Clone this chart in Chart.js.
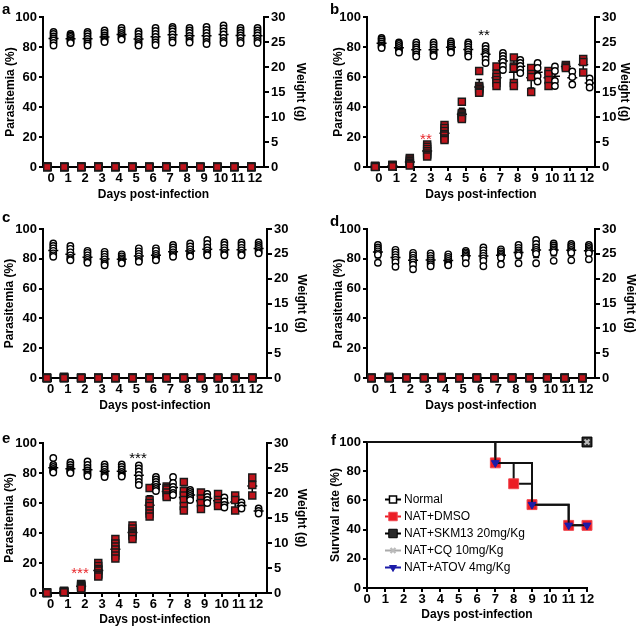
<!DOCTYPE html>
<html>
<head>
<meta charset="utf-8">
<script src="https://cdn.jsdelivr.net/npm/chart.js@4.4.1/dist/chart.umd.min.js"></script>
<style>
body { margin: 0; background: #fff; }
#wrap { position: relative; width: 638px; height: 630px; }
canvas { position: absolute; }
.lab { position: absolute; font: bold 15px/15px "Liberation Sans", Arial, sans-serif; color: #000; }
</style>
</head>
<body>
<div id="wrap">
  <canvas id="ca" width="318" height="210" style="left:0;top:0"></canvas>
  <canvas id="cb" width="320" height="210" style="left:318px;top:0"></canvas>
  <canvas id="cc" width="318" height="210" style="left:0;top:210px"></canvas>
  <canvas id="cd" width="320" height="210" style="left:318px;top:210px"></canvas>
  <canvas id="ce" width="318" height="210" style="left:0;top:420px"></canvas>
  <canvas id="cf" width="320" height="210" style="left:318px;top:420px"></canvas>
  <div class="lab" style="left:2px;top:1px">a</div>
  <div class="lab" style="left:330px;top:1px">b</div>
  <div class="lab" style="left:2px;top:209px">c</div>
  <div class="lab" style="left:330px;top:213px">d</div>
  <div class="lab" style="left:2px;top:430px">e</div>
  <div class="lab" style="left:331px;top:432px">f</div>
</div>
<script>
// days and tick labels
var days = [0, 1, 2, 3, 4, 5, 6, 7, 8, 9, 10, 11, 12];
var parasiteTicks = [0, 20, 40, 60, 80, 100];
var weightTicks = [0, 5, 10, 15, 20, 25, 30];
var survivalTicks = [0, 20, 40, 60, 80, 100];

// panel a - weight (g) and parasitemia (%) per mouse, one list per day
var weightA = [
  [27.0, 26.6, 26.1, 25.7, 25.3, 24.8, 24.3], [26.6, 26.3, 26.0, 25.6, 25.3, 25.0, 24.8],
  [27.0, 26.6, 26.1, 25.6, 25.1, 24.7, 24.3], [27.3, 26.8, 26.3, 25.9, 25.5, 25.2, 25.0],
  [27.8, 27.3, 26.8, 26.4, 26.0, 25.7, 25.5], [27.1, 26.6, 26.0, 25.5, 25.0, 24.6, 24.3],
  [27.8, 27.2, 26.6, 26.0, 25.4, 24.9, 24.4], [28.0, 27.6, 27.1, 26.5, 25.9, 25.3, 24.9],
  [27.8, 27.3, 26.8, 26.2, 25.7, 25.2, 24.9], [28.0, 27.4, 26.8, 26.2, 25.6, 25.0, 24.6],
  [28.3, 27.7, 27.1, 26.5, 25.8, 25.2, 24.8], [27.8, 27.3, 26.8, 26.3, 25.8, 25.2, 24.8],
  [27.8, 27.3, 26.8, 26.3, 25.7, 25.2, 24.8]
];
var parasA = [
  [0.4, 0.2, 0, 0, 0, 0, 0], [0.2, 0, 0, 0, 0, 0, 0], [0.3, 0.1, 0, 0, 0, 0, 0],
  [0.3, 0.2, 0, 0, 0, 0, 0], [0.4, 0.1, 0, 0, 0, 0, 0], [0.1, 0, 0, 0, 0, 0, 0],
  [0.2, 0, 0, 0, 0, 0, 0], [0.4, 0.2, 0, 0, 0, 0, 0], [0.3, 0.1, 0, 0, 0, 0, 0],
  [0.2, 0, 0, 0, 0, 0, 0], [0.1, 0, 0, 0, 0, 0, 0], [0.2, 0.1, 0, 0, 0, 0, 0],
  [0.3, 0, 0, 0, 0, 0, 0]
];

// panel b
var weightB = [
  [25.8, 25.5, 25.1, 24.7, 24.3, 24.0, 23.8], [24.9, 24.6, 24.2, 23.8, 23.4, 23.1, 22.9],
  [24.9, 24.4, 23.9, 23.5, 23.0, 22.5, 22.1], [24.9, 24.4, 23.9, 23.4, 22.9, 22.5, 22.2],
  [25.1, 24.7, 24.3, 23.9, 23.5, 23.1, 22.9], [24.9, 24.5, 24.0, 23.5, 23.0, 22.5, 22.1],
  [24.2, 23.6, 23.0, 22.6, 22.2, 21.5, 20.8], [22.8, 22.2, 21.6, 21.0, 20.2, 19.4],
  [21.4, 20.8, 20.2, 19.5, 18.8], [20.8, 19.8, 18.2, 17.1], [20.1, 19.2, 17.2, 16.2],
  [19.1, 18.0, 16.5], [17.7, 16.8, 15.9]
];
var parasB = [
  [0.8, 0.5, 0.3, 0.2, 0.1, 0.1, 0], [1.5, 1.2, 1.0, 0.8, 0.6, 0.5, 0.4],
  [6, 5, 4, 3, 2.5, 2, 1], [15, 13.5, 12, 10.5, 9, 8, 7], [28, 26, 24, 22, 21, 19, 18],
  [43.5, 36, 35, 34, 33, 33, 32], [64, 54, 53, 52, 51, 50, 49.5], [67, 62, 60, 58, 56, 54],
  [73, 67, 66, 56, 54], [66, 62, 60, 50], [64, 62, 58, 54], [68, 67, 66], [72, 70, 63]
];
var starsB = [
  { text: '**', day: 6.06, value: 90.5, color: '#000' },
  { text: '**', day: 2.71, value: 21.3, color: '#e8262a' }
];

// panel c
var weightC = [
  [27.1, 26.6, 26.1, 25.6, 25.1, 24.7, 24.4], [26.6, 26.0, 25.3, 24.7, 24.2, 23.9, 23.7],
  [25.6, 25.2, 24.7, 24.2, 23.8, 23.4, 23.2], [25.4, 24.9, 24.4, 23.9, 23.4, 23.0, 22.7],
  [24.9, 24.5, 24.1, 23.8, 23.5, 23.3, 23.1], [26.1, 25.5, 25.0, 24.5, 24.0, 23.6, 23.4],
  [26.1, 25.6, 25.0, 24.6, 24.2, 23.9, 23.7], [26.8, 26.3, 25.8, 25.3, 24.9, 24.6, 24.4],
  [27.1, 26.5, 25.9, 25.4, 25.0, 24.7, 24.5], [27.8, 27.0, 26.3, 25.7, 25.2, 24.9, 24.7],
  [27.3, 26.8, 26.2, 25.7, 25.2, 24.9, 24.7], [27.3, 26.8, 26.2, 25.7, 25.2, 24.9, 24.7],
  [27.3, 26.8, 26.4, 26.0, 25.6, 25.3, 25.1]
];
var parasC = [
  [0.2, 0, 0, 0, 0, 0, 0], [0.9, 0.5, 0.2, 0, 0, 0, 0], [0.1, 0, 0, 0, 0, 0, 0],
  [0.2, 0, 0, 0, 0, 0, 0], [0.4, 0.1, 0, 0, 0, 0, 0], [0.3, 0, 0, 0, 0, 0, 0],
  [0.3, 0.1, 0, 0, 0, 0, 0], [0.2, 0, 0, 0, 0, 0, 0], [0.1, 0, 0, 0, 0, 0, 0],
  [0.3, 0.1, 0, 0, 0, 0, 0], [0.2, 0, 0, 0, 0, 0, 0], [0.2, 0, 0, 0, 0, 0, 0],
  [0.2, 0, 0, 0, 0, 0, 0]
];

// panel d
var weightD = [
  [26.8, 26.3, 25.9, 25.5, 25.1, 24.8, 23.2], [25.8, 25.3, 24.8, 24.3, 23.8, 23.3, 22.4],
  [25.2, 24.7, 24.2, 23.8, 23.3, 22.8, 21.9], [25.1, 24.6, 24.1, 23.7, 23.3, 22.9, 22.5],
  [24.9, 24.4, 24.0, 23.6, 23.2, 22.9, 22.7], [25.6, 25.3, 25.0, 24.7, 24.4, 24.1, 23.1],
  [26.3, 25.7, 25.1, 24.6, 24.1, 23.6, 22.5], [25.9, 25.5, 25.1, 24.8, 24.5, 24.2, 22.9],
  [26.8, 26.2, 25.7, 25.3, 25.0, 24.7, 23.1], [27.8, 27.0, 26.3, 25.8, 25.4, 25.0, 23.1],
  [27.1, 26.7, 26.3, 25.9, 25.6, 25.3, 23.6], [27.0, 26.6, 26.2, 25.8, 25.5, 25.2, 23.7],
  [26.8, 26.4, 26.0, 25.7, 25.4, 25.1, 23.9]
];
var parasD = [
  [0.2, 0, 0, 0, 0, 0, 0], [0.8, 0.3, 0, 0, 0, 0, 0], [0.1, 0, 0, 0, 0, 0, 0],
  [0.2, 0, 0, 0, 0, 0, 0], [0.6, 0.2, 0, 0, 0, 0, 0], [0.2, 0, 0, 0, 0, 0, 0],
  [0.3, 0, 0, 0, 0, 0, 0], [0.4, 0.1, 0, 0, 0, 0, 0], [0.3, 0, 0, 0, 0, 0, 0],
  [0.5, 0.1, 0, 0, 0, 0, 0], [0.4, 0, 0, 0, 0, 0, 0], [0.2, 0, 0, 0, 0, 0, 0],
  [0.3, 0, 0, 0, 0, 0, 0]
];

// panel e
var weightE = [
  [27.0, 25.6, 25.2, 24.8, 24.5, 24.3, 24.1], [26.1, 25.6, 25.1, 24.7, 24.4, 24.2, 24.0],
  [26.3, 25.6, 25.0, 24.5, 24.1, 23.7, 23.4], [25.7, 25.2, 24.7, 24.2, 23.8, 23.5, 23.2],
  [25.7, 25.2, 24.7, 24.2, 23.8, 23.5, 23.3], [25.5, 24.9, 24.3, 23.6, 22.9, 22.2, 21.6],
  [23.2, 22.7, 22.2, 21.7, 21.2, 20.8, 20.4], [23.2, 22.0, 21.2, 20.6, 20.0, 19.6],
  [20.6, 20.2, 19.8, 19.4, 19.0, 18.6], [19.8, 19.2, 18.6, 18.0], [19.1, 18.3, 17.6, 17.1],
  [18.1, 17.5, 16.9], [16.9, 16.4, 15.9]
];
var parasE = [
  [0.5, 0.3, 0.2, 0.1, 0, 0, 0], [1.5, 1.2, 1.0, 0.8, 0.6, 0.5, 0.5],
  [6, 5.5, 5, 4.5, 4, 3.5, 3], [20, 18, 16, 15, 13, 12, 11], [36, 33, 31, 29, 27, 25, 23],
  [45, 43, 41, 40, 39, 38, 36], [70, 62, 60, 58, 55, 53, 51], [71, 70, 69, 67, 65, 64],
  [74, 68, 65, 62, 58, 55], [67, 63, 60, 56], [66, 62, 60, 58], [65, 62, 55], [77, 72, 65]
];
var starsE = [
  { text: '***', day: 5.1, value: 92.7, color: '#000' },
  { text: '***', day: 1.71, value: 16, color: '#e8262a' }
];

// panel f - survival (%)
var groupNames = ['Normal', 'NAT+DMSO', 'NAT+SKM13 20mg/Kg', 'NAT+CQ 10mg/Kg', 'NAT+ATOV 4mg/Kg'];
var survFullDays = [0, 12];
var survFull = [100, 100];
var survDmsoDays = [0, 7, 8, 9, 11, 12];
var survDmso = [100, 85.7, 71.4, 57.1, 42.9, 42.9];
var survAtovDays = [0, 7, 9, 11, 12];
var survAtov = [100, 85.7, 57.1, 42.9, 42.9];

Chart.defaults.font.family = "'Liberation Sans', Arial, Helvetica, sans-serif";
Chart.defaults.color = '#000';
Chart.defaults.animation = false;

var tickFont = { size: 13, weight: 'bold' };
var titleFont = { size: 12, weight: 'bold' };
var SHIFT_SQ = -0.22, SHIFT_CI = 0.15;

function fixTicks(list) { return function (s) { s.ticks = list.map(function (v) { return { value: v }; }); }; }
function fixW(w) { return function (s) { s.width = w; }; }
function fixH(h) { return function (s) { s.height = h; }; }
function marks(len) { return { drawOnChartArea: false, color: '#000', lineWidth: 2, tickLength: len }; }
var border = { color: '#000', width: 2 };

function pts(groups, shift) {
  var out = [];
  groups.forEach(function (vals, i) {
    vals.forEach(function (v) { out.push({ x: days[i] + shift, y: v }); });
  });
  return out;
}

// mean +/- SD bars drawn under the markers
var sdBars = {
  id: 'sdBars',
  beforeDatasetsDraw: function (chart) {
    var ctx = chart.ctx;
    ctx.save();
    ctx.strokeStyle = '#000';
    ctx.lineWidth = 1.5;
    chart.data.datasets.forEach(function (ds) {
      if (!ds.groups) return;
      var ys = chart.scales[ds.yAxisID], xs = chart.scales.x;
      ds.groups.forEach(function (vals, i) {
        var n = vals.length;
        if (n < 2) return;
        var m = vals.reduce(function (a, b) { return a + b; }, 0) / n;
        var sd = Math.sqrt(vals.reduce(function (a, b) { return a + (b - m) * (b - m); }, 0) / (n - 1));
        var px = xs.getPixelForValue(days[i] + ds.shift);
        var top = ys.getPixelForValue(m + sd), bot = ys.getPixelForValue(m - sd), mid = ys.getPixelForValue(m);
        ctx.beginPath();
        ctx.moveTo(px, top); ctx.lineTo(px, bot);
        ctx.moveTo(px - 3, top); ctx.lineTo(px + 3, top);
        ctx.moveTo(px - 3, bot); ctx.lineTo(px + 3, bot);
        ctx.moveTo(px - 5, mid); ctx.lineTo(px + 5, mid);
        ctx.stroke();
      });
    });
    ctx.restore();
  }
};

var starMarks = {
  id: 'starMarks',
  afterDatasetsDraw: function (chart, args, o) {
    if (!o || !o.items) return;
    var ctx = chart.ctx;
    ctx.save();
    ctx.font = '15px "Liberation Sans", Arial, sans-serif';
    ctx.textAlign = 'center';
    ctx.textBaseline = 'alphabetic';
    o.items.forEach(function (s) {
      ctx.fillStyle = s.color;
      ctx.fillText(s.text, chart.scales.x.getPixelForValue(s.day), chart.scales.y.getPixelForValue(s.value) + 15 * 0.57);
    });
    ctx.restore();
  }
};

function mouseChart(box, weights, paras, stars) {
  new Chart(document.getElementById(box.id), {
    type: 'scatter',
    data: {
      datasets: [{
        label: 'Weight',
        data: pts(weights, SHIFT_CI),
        groups: weights, shift: SHIFT_CI,
        yAxisID: 'y2',
        pointStyle: 'circle', pointRadius: 3.2, pointBorderWidth: 1.4,
        pointBackgroundColor: '#fff', pointBorderColor: '#000', clip: false
      }, {
        label: 'Parasitemia',
        data: pts(paras, SHIFT_SQ),
        groups: paras, shift: SHIFT_SQ,
        yAxisID: 'y',
        pointStyle: 'rect', pointRadius: 5, pointBorderWidth: 1.4,
        pointBackgroundColor: '#bf141c', pointBorderColor: '#1a1a1a', clip: false
      }]
    },
    options: {
      responsive: false,
      events: [],
      layout: { padding: { top: box.top, left: 0, right: 0, bottom: 0 } },
      plugins: { legend: { display: false }, tooltip: { enabled: false }, starMarks: { items: stars } },
      scales: {
        x: {
          type: 'linear', min: box.xmin, max: box.xmax,
          afterBuildTicks: fixTicks(days), afterFit: fixH(210 - box.bottom),
          grid: marks(4), border: border,
          ticks: { font: tickFont, color: '#000', padding: 0, maxRotation: 0 },
          title: { display: true, text: 'Days post-infection', font: titleFont, color: '#000', padding: { bottom: box.xPad, top: 0 } }
        },
        y: {
          position: 'left', min: 0, max: 100,
          afterBuildTicks: fixTicks(parasiteTicks), afterFit: fixW(box.left),
          grid: marks(4), border: border,
          ticks: { font: tickFont, color: '#000', padding: 2 },
          title: { display: true, text: 'Parasitemia (%)', font: titleFont, color: '#000', padding: { top: box.yPad, bottom: 0 } }
        },
        y2: {
          position: 'right', min: 0, max: 30,
          afterBuildTicks: fixTicks(weightTicks), afterFit: fixW(box.w - box.right),
          grid: marks(5), border: border,
          ticks: { font: tickFont, color: '#000', padding: 2 },
          title: { display: true, text: 'Weight (g)', font: titleFont, color: '#000', padding: { top: box.y2Pad, bottom: 0 } }
        }
      }
    },
    plugins: [sdBars, starMarks]
  });
}

mouseChart({ id: 'ca', w: 318, left: 43, right: 264, top: 17, bottom: 167, xmin: -0.47, xmax: 12.53, yPad: 3, y2Pad: 10, xPad: 8 }, weightA, parasA, []);
mouseChart({ id: 'cb', w: 320, left: 49, right: 277, top: 17, bottom: 167, xmin: -0.69, xmax: 12.46, yPad: 13, y2Pad: 6.5, xPad: 8 }, weightB, parasB, starsB);
mouseChart({ id: 'cc', w: 318, left: 43, right: 267, top: 19, bottom: 168, xmin: -0.45, xmax: 12.64, yPad: 2, y2Pad: 9, xPad: 7 }, weightC, parasC, []);
mouseChart({ id: 'cd', w: 320, left: 49, right: 277, top: 19, bottom: 168, xmin: -0.47, xmax: 12.5, yPad: 13.5, y2Pad: 0.5, xPad: 7 }, weightD, parasD, []);
mouseChart({ id: 'ce', w: 318, left: 43, right: 267, top: 23, bottom: 173, xmin: -0.45, xmax: 12.64, yPad: 2, y2Pad: 9, xPad: 3 }, weightE, parasE, starsE);

// legend drawn inside the survival plot
var boxLegend = {
  id: 'boxLegend',
  afterDraw: function (chart, args, o) {
    var ctx = chart.ctx;
    ctx.save();
    chart.data.datasets.forEach(function (ds, i) {
      var y = o.y + i * o.gap;
      ctx.strokeStyle = ds.legendColor;
      ctx.lineWidth = 2;
      ctx.beginPath(); ctx.moveTo(o.x, y); ctx.lineTo(o.x + 16, y); ctx.stroke();
      ctx.fillStyle = ds.pointBackgroundColor;
      ctx.strokeStyle = ds.pointBorderColor;
      ctx.lineWidth = ds.pointBorderWidth;
      Chart.helpers.drawPoint(ctx, { pointStyle: ds.pointStyle, rotation: ds.pointRotation || 0, radius: ds.legendRadius, borderWidth: ds.pointBorderWidth }, o.x + 8, y);
      ctx.fillStyle = '#000';
      ctx.font = '12px "Liberation Sans", Arial, sans-serif';
      ctx.textAlign = 'left';
      ctx.textBaseline = 'middle';
      ctx.fillText(ds.label, o.x + 19, y);
    });
    ctx.restore();
  }
};

function survSet(label, xs, ys, style) {
  var ds = {
    label: label,
    data: xs.map(function (x, i) { return { x: x, y: ys[i] }; }),
    stepped: true, borderColor: '#111', borderWidth: 2, fill: false, clip: false,
    pointRadius: xs.map(function (x, i) { return i === 0 ? 0 : style.r; })
  };
  for (var k in style) if (k !== 'r') ds[k] = style[k];
  return ds;
}

new Chart(document.getElementById('cf'), {
  type: 'line',
  data: {
    datasets: [
      survSet(groupNames[0], survFullDays, survFull, { r: 6, order: 5, pointStyle: 'rect', pointBackgroundColor: '#fff', pointBorderColor: '#000', pointBorderWidth: 1.5, legendColor: '#000', legendRadius: 5 }),
      survSet(groupNames[1], survDmsoDays, survDmso, { r: 7, order: 4, pointStyle: 'rect', pointBackgroundColor: '#ec1c24', pointBorderColor: '#f04850', pointBorderWidth: 1, legendColor: '#ec1c24', legendRadius: 6 }),
      survSet(groupNames[2], survFullDays, survFull, { r: 7, order: 3, pointStyle: 'rect', pointBackgroundColor: '#2a2a2a', pointBorderColor: '#000', pointBorderWidth: 1, legendColor: '#000', legendRadius: 6 }),
      survSet(groupNames[3], survFullDays, survFull, { r: 3.5, order: 2, pointStyle: 'crossRot', pointBackgroundColor: '#bbb', pointBorderColor: '#bbb', pointBorderWidth: 2.2, legendColor: '#aaa', legendRadius: 3.5 }),
      survSet(groupNames[4], survAtovDays, survAtov, { r: 4.5, order: 1, pointStyle: 'triangle', pointRotation: 180, pointBackgroundColor: '#1c1ca8', pointBorderColor: '#1c1ca8', pointBorderWidth: 1, legendColor: '#1c1ca8', legendRadius: 4 })
    ]
  },
  options: {
    responsive: false,
    events: [],
    layout: { padding: { top: 22, left: 0, right: 51, bottom: 0 } },
    plugins: { legend: { display: false }, tooltip: { enabled: false }, boxLegend: { x: 67, y: 79.5, gap: 17 } },
    scales: {
      x: {
        type: 'linear', min: 0, max: 12,
        afterBuildTicks: fixTicks(days), afterFit: fixH(42),
        grid: marks(4), border: border,
        ticks: { font: tickFont, color: '#000', padding: 0, maxRotation: 0 },
        title: { display: true, text: 'Days post-infection', font: titleFont, color: '#000', padding: { bottom: 8, top: 0 } }
      },
      y: {
        min: 0, max: 100,
        afterBuildTicks: fixTicks(survivalTicks), afterFit: fixW(49),
        grid: marks(4), border: border,
        ticks: { font: tickFont, color: '#000', padding: 2 },
        title: { display: true, text: 'Survival rate (%)', font: titleFont, color: '#000', padding: { top: 10, bottom: 0 } }
      }
    }
  },
  plugins: [boxLegend]
});
</script>
</body>
</html>
